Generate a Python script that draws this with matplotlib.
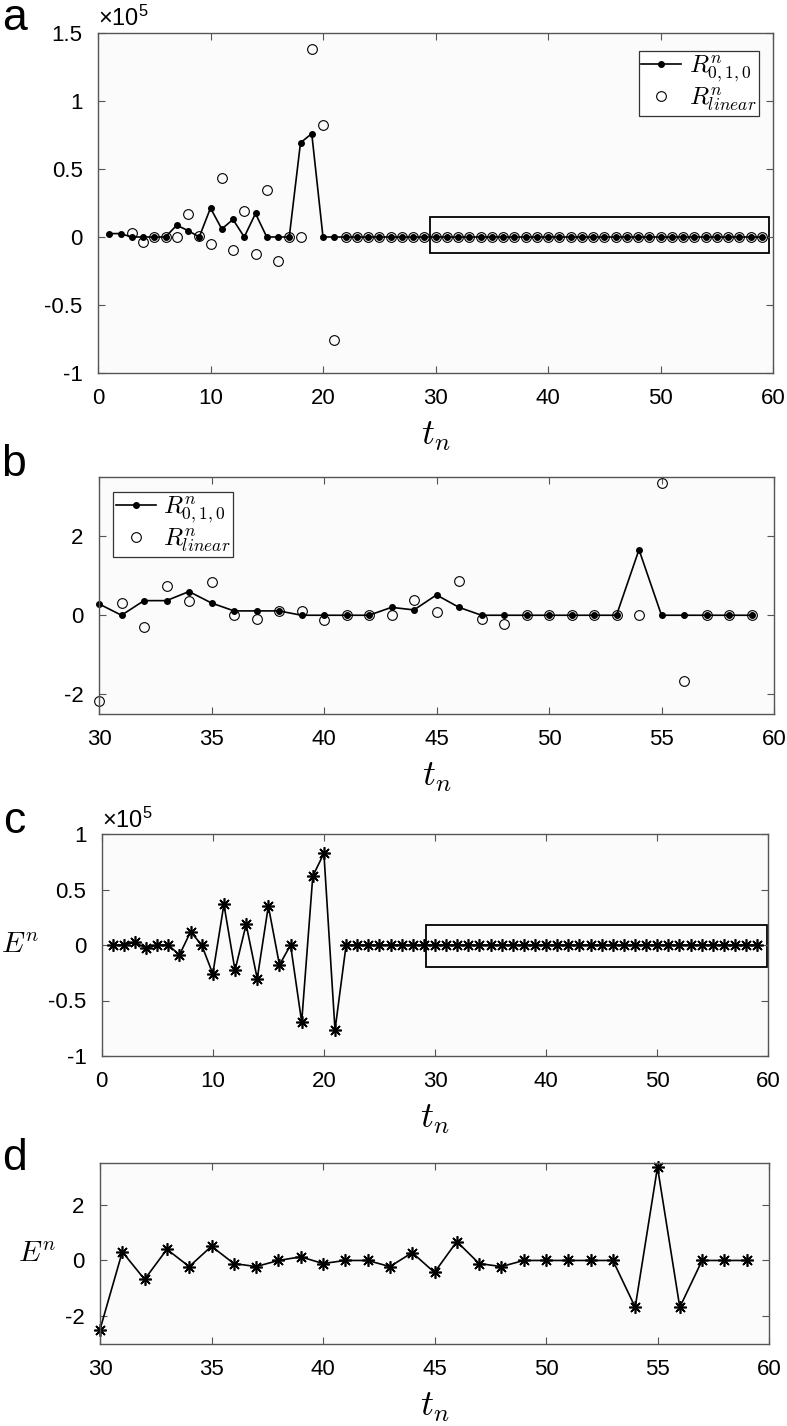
import numpy as np
import matplotlib.pyplot as plt
from matplotlib.patches import Rectangle
from matplotlib.ticker import FuncFormatter

plt.rcParams['font.family'] = ['Liberation Sans', 'DejaVu Sans']
plt.rcParams['mathtext.fontset'] = 'cm'
plt.rcParams['axes.unicode_minus'] = False

# ---- data (panels a and c in units of 1e5) ----
t_a = np.arange(1, 60)
R010_a = [0.025, 0.025, 0, 0, 0, 0, 0.087, 0.047, 0, 0.213, 0.059, 0.129, 0, 0.173,
          0, 0, 0, 0.693, 0.76, 0, 0] + [0] * 38
t_lin_a = np.arange(3, 60)
Rlin_a = [0.03, -0.035, 0, 0, 0, 0.171, 0.01, -0.05, 0.431, -0.099, 0.188, -0.126,
          0.347, -0.176, 0, 0, 1.384, 0.827, -0.76] + [0] * 38

t_b = np.arange(30, 60)
R010_b = [0.287, 0, 0.37, 0.37, 0.6, 0.31, 0.11, 0.11, 0.11, 0, 0, 0, 0, 0.2, 0.135,
          0.515, 0.2, 0, 0, 0, 0, 0, 0, 0, 1.66, 0, 0, 0, 0, 0]
Rlin_b = [-2.16, 0.30, -0.287, 0.73, 0.36, 0.83, 0, -0.093, 0.11, 0.10, -0.127, 0, 0, 0, 0.39,
          0.076, 0.86, -0.10, -0.21, 0, 0, 0, 0, 0, 0, 3.35, -1.67, 0, 0, 0]

E_c = [0, 0, 0.024, -0.03, 0, 0, -0.09, 0.12, 0, -0.26, 0.366, -0.228, 0.186, -0.303,
       0.351, -0.18, 0, -0.694, 0.62, 0.826, -0.766] + [0] * 38
E_d = [-2.48, 0.31, -0.68, 0.40, -0.22, 0.51, -0.11, -0.22, 0, 0.13, -0.11, 0, 0, -0.22, 0.28,
       -0.43, 0.68, -0.11, -0.22, 0, 0, 0, 0, 0, -1.68, 3.35, -1.68, 0, 0, 0]

W, H = 787, 1426
fig = plt.figure(figsize=(W / 100, H / 100), dpi=100)


def make_ax(l, r, t, b):
    return fig.add_axes([l / W, 1 - b / H, (r - l) / W, (b - t) / H])


def style(ax, xlim, xticks, ylim, yticks):
    ax.set_facecolor('#fbfbfb')
    ax.set_xlim(xlim)
    ax.set_ylim(ylim)
    ax.set_xticks(xticks)
    ax.set_yticks(yticks)
    ax.xaxis.set_major_formatter(FuncFormatter(lambda v, p: '%g' % v))
    ax.yaxis.set_major_formatter(FuncFormatter(lambda v, p: '%g' % v))
    ax.tick_params(direction='in', top=True, right=True, length=5, width=0.8,
                   color='#555555', labelsize=16, pad=11)
    for s in ax.spines.values():
        s.set_color('#555555')
        s.set_linewidth(1.0)
    ax.set_xlabel('$t_n$', fontsize=26, labelpad=6)


def sci_label(ax):
    ax.text(0.0, 1.005, r'$\mathregular{\times 10^{5}}$', transform=ax.transAxes,
            fontsize=17, ha='left', va='bottom')


def add_legend(ax, loc, anchor):
    leg = ax.legend(loc=loc, bbox_to_anchor=anchor, borderaxespad=0, fontsize=18,
                    handlelength=1.6, handletextpad=0.3, fancybox=False, framealpha=1,
                    edgecolor='#333333', labelspacing=0.0, borderpad=0.1)
    leg.get_frame().set_linewidth(0.9)


line_kw = dict(color='black', lw=1.2, marker='o', ms=4, mfc='black', mec='black', clip_on=False)
circ_kw = dict(ls='none', marker='o', ms=7, mfc='none', mec='black', mew=0.8, clip_on=False)
star_kw = dict(color='black', lw=1.2, marker=(8, 2, 0), ms=9, mew=1.2, clip_on=False)

# ---- panel a ----
ax = make_ax(98, 773, 33, 373)
ax.plot(t_a, R010_a, label='$R^n_{0,1,0}$', **line_kw)
ax.plot(t_lin_a, Rlin_a, label='$R^n_{linear}$', **circ_kw)
ax.add_patch(Rectangle((29.5, -0.115), 30.15, 0.26, fill=False, ec='black', lw=1.3))
style(ax, (0, 60), range(0, 61, 10), (-1, 1.5), [-1, -0.5, 0, 0.5, 1, 1.5])
sci_label(ax)
add_legend(ax, 'upper right', (1 - 14 / 675, 1 - 18 / 340))

# ---- panel b ----
ax = make_ax(99, 774, 477, 714)
ax.plot(t_b, R010_b, label='$R^n_{0,1,0}$', **line_kw)
ax.plot(t_b, Rlin_b, label='$R^n_{linear}$', **circ_kw)
style(ax, (30, 60), range(30, 61, 5), (-2.5, 3.5), [-2, 0, 2])
add_legend(ax, 'upper left', (14 / 675, 1 - 15 / 237))

# ---- panel c ----
ax = make_ax(101.7, 768.3, 834, 1056)
ax.plot(t_a, E_c, **star_kw)
ax.add_patch(Rectangle((29.2, -0.2), 30.65, 0.38, fill=False, ec='black', lw=1.3))
style(ax, (0, 60), range(0, 61, 10), (-1, 1), [-1, -0.5, 0, 0.5, 1])
sci_label(ax)
ax.set_ylabel('$E^n$', fontsize=21, rotation=0, ha='right', va='center', labelpad=6)

# ---- panel d ----
ax = make_ax(100, 769, 1163, 1344)
ax.plot(t_b, E_d, **star_kw)
style(ax, (30, 60), range(30, 61, 5), (-3, 3.5), [-2, 0, 2])
ax.set_ylabel('$E^n$', fontsize=21, rotation=0, ha='right', va='center', labelpad=6)

# panel letters
for letter, y in zip('abcd', [18, 465, 822, 1158]):
    fig.text(14 / W, 1 - y / H, letter, fontsize=32, ha='center', va='center')

fig.savefig('out.png', dpi=100, facecolor='white')
